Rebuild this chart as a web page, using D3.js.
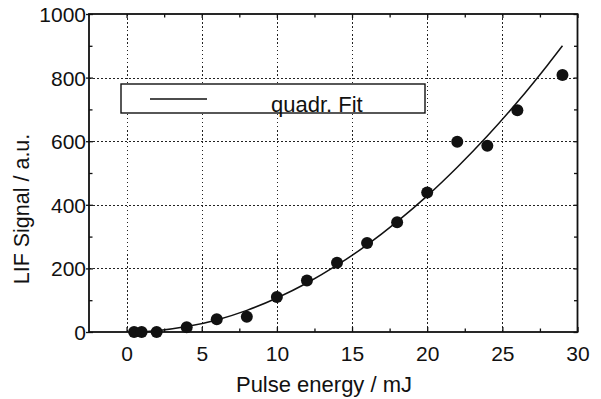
<!DOCTYPE html>
<html>
<head>
<meta charset="utf-8">
<script src="https://cdn.jsdelivr.net/npm/d3@7"></script>
<style>
  html, body { margin: 0; padding: 0; background: #fff; }
  svg { display: block; }
  text { font-family: "Liberation Sans", Arial, Helvetica, sans-serif; fill: #111; }
</style>
</head>
<body>
<svg id="chart" width="601" height="399"></svg>
<script>
// Measured LIF signal versus laser pulse energy
const pulseEnergy = [0.5, 1, 2, 4, 6, 8, 10, 12, 14, 16, 18, 20, 22, 24, 26, 29];
const lifSignal   = [0, 0, 0, 15, 40, 48, 110, 162, 218, 280, 345, 439, 598, 586, 697, 808];

// Quadratic fit curve, sampled along the energy axis
const fitEnergy = [0.5, 2, 4, 6, 8, 10, 12, 14, 16, 18, 20, 22, 24, 26, 28, 29];
const fitSignal = [0, 4, 17, 38, 68, 107, 154, 210, 274, 347, 428, 518, 616, 723, 839, 900];

// Axis ticks
const xMajorTicks = [0, 5, 10, 15, 20, 25, 30];
const xMinorTicks = [2.5, 7.5, 12.5, 17.5, 22.5, 27.5];
const yMajorTicks = [0, 200, 400, 600, 800, 1000];
const yMinorTicks = [100, 300, 500, 700, 900];
const xGrid = [0, 5, 10, 15, 20, 25];
const yGrid = [200, 400, 600, 800];

const legendLabel = "quadr. Fit";
const xTitle = "Pulse energy / mJ";
const yTitle = "LIF Signal / a.u.";

const svg = d3.select("#chart");
const L = 89, R = 577.5, T = 14, B = 332;

const x = d3.scaleLinear().domain([-2.5, 30]).range([L, R]);
const y = d3.scaleLinear().domain([0, 1000]).range([B, T]);
const px = v => Math.round(v) + 0.5;

// Dotted grid
const grid = svg.append("g").attr("stroke", "#222").attr("stroke-width", 1)
  .attr("stroke-dasharray", "1.5,2.5").attr("shape-rendering", "crispEdges");
grid.selectAll("line.gx").data(xGrid).join("line")
  .attr("x1", d => px(x(d))).attr("x2", d => px(x(d))).attr("y1", T).attr("y2", B);
grid.selectAll("line.gy").data(yGrid).join("line")
  .attr("x1", L).attr("x2", R).attr("y1", d => px(y(d))).attr("y2", d => px(y(d)));

// Axes with inward ticks on all four sides
function tickAxis(axisFn, scale, vals, size, tf) {
  const g = svg.append("g").attr("transform", tf)
    .call(axisFn(scale).tickValues(vals).tickSize(size).tickFormat(""));
  g.select(".domain").remove();
  g.selectAll("line").attr("stroke", "#111").attr("stroke-width", 1.3);
  return g;
}
tickAxis(d3.axisTop, x, xMajorTicks, 5, `translate(0,${B})`);
tickAxis(d3.axisTop, x, xMinorTicks, 3.5, `translate(0,${B})`);
tickAxis(d3.axisBottom, x, xMajorTicks, 4, `translate(0,${T})`);
tickAxis(d3.axisBottom, x, xMinorTicks, 3.5, `translate(0,${T})`);
tickAxis(d3.axisRight, y, yMajorTicks, 4, `translate(${L},0)`);
tickAxis(d3.axisRight, y, yMinorTicks, 3.5, `translate(${L},0)`);
tickAxis(d3.axisLeft, y, yMajorTicks, 4, `translate(${R},0)`);
tickAxis(d3.axisLeft, y, yMinorTicks, 3.5, `translate(${R},0)`);
// short outward ticks at left labels
tickAxis(d3.axisLeft, y, yMajorTicks, 3, `translate(${L},0)`);

// Tick labels
const xLab = svg.append("g").attr("transform", `translate(0,${B})`)
  .call(d3.axisBottom(x).tickValues(xMajorTicks).tickSize(0).tickPadding(29)
    .tickFormat(d3.format("d")));
xLab.select(".domain").remove();
xLab.selectAll("text").attr("font-size", 21).attr("fill", "#111")
  .style("font-family", "'Liberation Sans', Arial, sans-serif").attr("dy", 0);

const yLab = svg.append("g").attr("transform", `translate(${L},0)`)
  .call(d3.axisLeft(y).tickValues(yMajorTicks).tickSize(0).tickPadding(3)
    .tickFormat(d3.format("d")));
yLab.select(".domain").remove();
yLab.selectAll("text").attr("font-size", 21).attr("fill", "#111")
  .style("font-family", "'Liberation Sans', Arial, sans-serif").attr("dy", "0.36em");

// Frame
svg.append("rect").attr("x", L).attr("y", T).attr("width", R - L).attr("height", B - T)
  .attr("fill", "none").attr("stroke", "#111").attr("stroke-width", 1.8);

// Legend
const lg = svg.append("g");
lg.append("rect").attr("x", 121).attr("y", 84).attr("width", 304).attr("height", 29)
  .attr("fill", "#fff").attr("stroke", "#111").attr("stroke-width", 1.4);
lg.append("line").attr("x1", 150).attr("x2", 207).attr("y1", 99).attr("y2", 99)
  .attr("stroke", "#111").attr("stroke-width", 1.6);
lg.append("text").attr("x", 271).attr("y", 112).attr("font-size", 22).text(legendLabel);

// Fit curve
const line = d3.line().x(d => x(d[0])).y(d => y(d[1])).curve(d3.curveMonotoneX);
svg.append("path").datum(d3.zip(fitEnergy, fitSignal)).attr("d", line)
  .attr("fill", "none").attr("stroke", "#111").attr("stroke-width", 1.5);

// Data points
svg.append("g").selectAll("circle").data(d3.zip(pulseEnergy, lifSignal)).join("circle")
  .attr("cx", d => x(d[0])).attr("cy", d => y(d[1])).attr("r", 6).attr("fill", "#111");

// Axis titles
svg.append("text").attr("x", 324).attr("y", 392).attr("text-anchor", "middle")
  .attr("font-size", 22).text(xTitle);
svg.append("text").attr("transform", "translate(29,209) rotate(-90)")
  .attr("text-anchor", "middle").attr("font-size", 21.5).text(yTitle);
</script>
</body>
</html>
